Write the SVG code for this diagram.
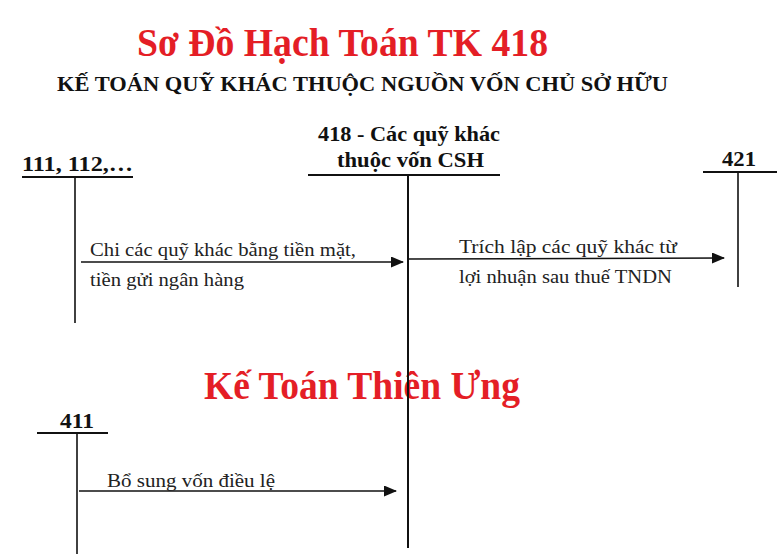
<svg xmlns="http://www.w3.org/2000/svg" width="777" height="554" viewBox="0 0 777 554">
<style>
text{font-family:"Liberation Serif","Times New Roman",serif;fill:#111}
.red{fill:#e41e26;font-weight:bold;font-size:39px}
.h{font-weight:bold;font-size:21px}
.acc{font-weight:bold;font-size:22px}
.lbl{font-size:19px;fill:#222}
.t{stroke:#111;stroke-width:2;fill:none}
.v{stroke:#111;stroke-width:1.6;fill:none}
.a{stroke:#111;stroke-width:1.6;fill:none;marker-end:url(#ah)}
</style>
<defs>
<marker id="ah" markerWidth="13" markerHeight="11" refX="12" refY="5.5" orient="auto" markerUnits="userSpaceOnUse">
<path d="M0,0 L13,5.5 L0,11 Z" fill="#111"/>
</marker>
</defs>
<rect width="777" height="554" fill="#fff"/>
<text class="red" x="137" y="56" textLength="411" lengthAdjust="spacingAndGlyphs">Sơ Đồ Hạch Toán TK 418</text>
<text class="h" x="57" y="91" textLength="611" lengthAdjust="spacingAndGlyphs">KẾ TOÁN QUỸ KHÁC THUỘC NGUỒN VỐN CHỦ SỞ HỮU</text>
<text class="red" x="204" y="399" textLength="316" lengthAdjust="spacingAndGlyphs">Kế Toán Thiên Ưng</text>

<g id="acc-418">
<text class="acc" x="318" y="141" textLength="182" lengthAdjust="spacingAndGlyphs">418 - Các quỹ khác</text>
<text class="acc" x="337" y="167" textLength="147" lengthAdjust="spacingAndGlyphs">thuộc vốn CSH</text>
<line class="t" x1="308" y1="175" x2="500" y2="175"/>
<line class="t" x1="408" y1="176" x2="408" y2="548"/>
</g>
<g id="acc-111">
<text class="acc" x="22" y="171" textLength="111" lengthAdjust="spacingAndGlyphs">111, 112,…</text>
<line class="t" x1="22" y1="177" x2="133" y2="177"/>
<line class="v" x1="75" y1="178" x2="75" y2="323"/>
</g>
<g id="acc-421">
<text class="acc" x="722" y="166" textLength="34" lengthAdjust="spacingAndGlyphs">421</text>
<line class="t" x1="703" y1="172" x2="777" y2="172"/>
<line class="v" x1="738" y1="173" x2="738" y2="287"/>
</g>
<g id="acc-411">
<text class="acc" x="60" y="428" textLength="34" lengthAdjust="spacingAndGlyphs">411</text>
<line class="t" x1="37" y1="433" x2="108" y2="433"/>
<line class="v" x1="77" y1="434" x2="77" y2="554"/>
</g>

<g id="connectors">
<line class="a" x1="81" y1="262" x2="403" y2="262"/>
<line class="a" x1="409" y1="259" x2="724" y2="258"/>
<line class="a" x1="79" y1="491" x2="396" y2="491"/>
<text class="lbl" x="90" y="256" textLength="266" lengthAdjust="spacingAndGlyphs">Chi các quỹ khác bằng tiền mặt,</text>
<text class="lbl" x="90" y="286" textLength="154" lengthAdjust="spacingAndGlyphs">tiền gửi ngân hàng</text>
<text class="lbl" x="459" y="253" textLength="218" lengthAdjust="spacingAndGlyphs">Trích lập các quỹ khác từ</text>
<text class="lbl" x="459" y="283" textLength="213" lengthAdjust="spacingAndGlyphs">lợi nhuận sau thuế TNDN</text>
<text class="lbl" x="107" y="487" textLength="168" lengthAdjust="spacingAndGlyphs">Bổ sung vốn điều lệ</text>
</g>
</svg>
